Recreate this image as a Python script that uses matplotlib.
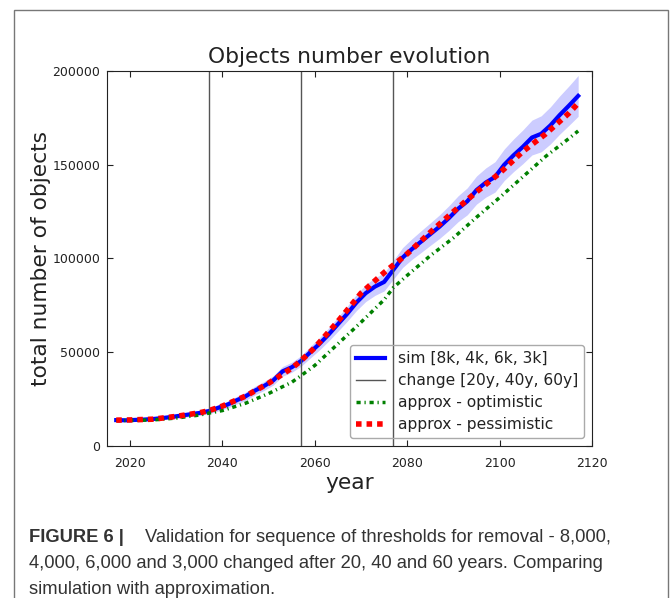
import matplotlib
matplotlib.use("Agg")
from matplotlib import pyplot as plt
from matplotlib.patches import Rectangle
import numpy as np

# simulation, every 2 years
sim_years = list(range(2017, 2118, 2))
sim_values = [
    13800, 13700, 13900, 14100, 14400, 14900, 15500, 16200, 16900, 17600,
    18600, 20300, 22000, 24300, 26500, 29500, 32000, 35000, 39800, 42000,
    45300, 50000, 54500, 59500, 65000, 70500, 76500, 81500, 85000, 87500,
    94000, 100500, 105000, 109000, 113000, 117000, 121500, 126500, 130500, 136500,
    140500, 143500, 150000, 155000, 159500, 164500, 166500, 171000, 176500, 181500,
    186700,
]
sim_spread = [
    500, 600, 700, 700, 800, 900, 1000, 1100, 1200, 1300,
    1500, 1700, 1800, 2000, 2200, 2300, 2400, 2500, 2600, 2700,
    2800, 3100, 3300, 3500, 3800, 4000, 4300, 4500, 4700, 4800,
    5000, 5300, 5500, 5800, 6000, 6300, 6600, 6900, 7200, 7500,
    7800, 8100, 8400, 8700, 9000, 9300, 9600, 9900, 10200, 10500,
    10900,
]

# approximations
approx_years = [2017, 2020, 2025, 2030, 2035, 2037, 2040, 2045, 2050, 2055, 2057,
                2060, 2065, 2070, 2075, 2077, 2080, 2085, 2090, 2095, 2100,
                2105, 2110, 2115, 2117]
optimistic = [13600, 13600, 13900, 14900, 16500, 17500, 18900, 22800, 28000, 34000, 37500,
              43000, 54500, 66000, 78000, 84500, 91000, 101500, 111000, 122000, 132500,
              143500, 154500, 164000, 168000]
pessimistic = [13800, 13900, 14300, 15800, 17700, 18800, 21300, 26600, 33500, 41500, 45500,
               52500, 66500, 81500, 92500, 96500, 102500, 114000, 125000, 135500, 145500,
               157000, 166500, 177500, 182800]

change_years = [2037, 2057, 2077]

dark = "#222222"

fig = plt.figure(figsize=(6.7, 5.98), dpi=100)
ax = fig.add_axes([0.1597, 0.2542, 0.7239, 0.6271])

sim_values = np.array(sim_values)
sim_spread = np.array(sim_spread)
ax.fill_between(sim_years, sim_values - sim_spread, sim_values + sim_spread,
                color="blue", alpha=0.2, linewidth=0)
ax.plot(sim_years, sim_values, color="blue", linewidth=3, label="sim [8k, 4k, 6k, 3k]")
for i, yr in enumerate(change_years):
    ax.axvline(yr, color="#555555", linewidth=1,
               label="change [20y, 40y, 60y]" if i == 0 else None)
ax.plot(approx_years, optimistic, color="green", linewidth=2.5,
        dashes=(1.2, 1.1, 0.35, 1.1), label="approx - optimistic")
ax.plot(approx_years, pessimistic, color="red", linewidth=4,
        dashes=(1.0, 0.9), label="approx - pessimistic")

ax.set_xlim(2015, 2120)
ax.set_ylim(0, 200000)
ax.set_xticks([2020, 2040, 2060, 2080, 2100, 2120])
ax.set_yticks([0, 50000, 100000, 150000, 200000])
ax.tick_params(direction="in", top=True, right=True, length=4, labelsize=9,
               colors=dark)
ax.tick_params(axis="x", pad=8)
ax.tick_params(axis="y", pad=5)
for s in ax.spines.values():
    s.set_color(dark)

ax.set_title("Objects number evolution", fontsize=15.7, color=dark)
ax.set_xlabel("year", fontsize=15.7, color=dark, labelpad=2)
ax.set_ylabel("total number of objects", fontsize=15.7, color=dark, labelpad=1)

leg = ax.legend(loc="lower right", fontsize=11.2, fancybox=True,
                handlelength=1.9, labelspacing=0.45)
frame = leg.get_frame()
frame.set_alpha(None)
frame.set_facecolor((1, 1, 1, 0))
frame.set_edgecolor("#aaaaaa")
for t in leg.get_texts():
    t.set_color(dark)

# outer border of the figure panel
fig.patches.append(Rectangle((14 / 670, -0.1), 654 / 670, 1 - 10 / 598 + 0.1,
                             transform=fig.transFigure, fill=False,
                             edgecolor="#777777", linewidth=1))

# caption
cap_kw = dict(fontsize=13.2, color="#333333", family="Liberation Sans", va="center")
fig.text(29 / 670, 1 - 538 / 598, "FIGURE 6 |", fontweight="bold", **cap_kw)
fig.text(145 / 670, 1 - 538 / 598,
         "Validation for sequence of thresholds for removal - 8,000,", **cap_kw)
fig.text(29 / 670, 1 - 563 / 598,
         "4,000, 6,000 and 3,000 changed after 20, 40 and 60 years. Comparing", **cap_kw)
fig.text(29 / 670, 1 - 589 / 598, "simulation with approximation.", **cap_kw)

fig.savefig("out.png", dpi=100)
